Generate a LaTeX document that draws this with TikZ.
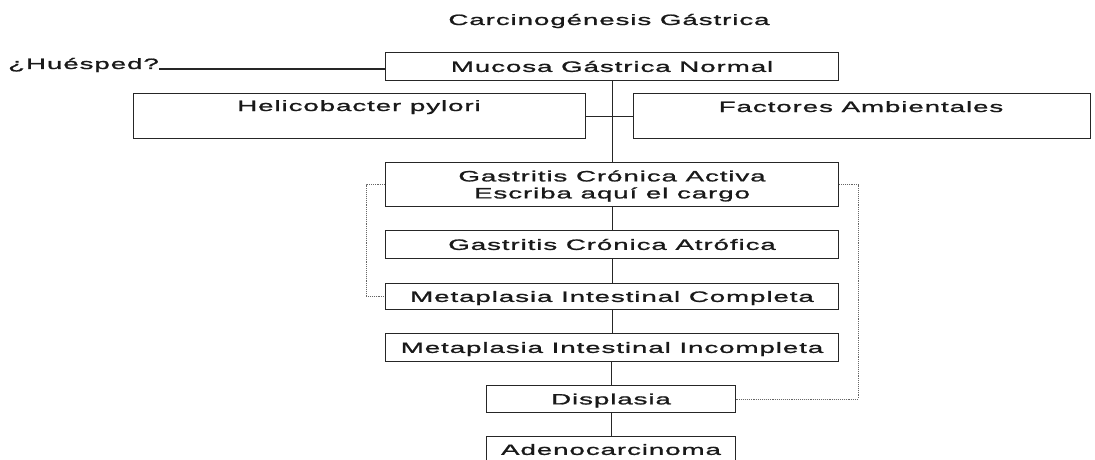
\documentclass[tikz,border=0pt]{standalone}
\usepackage{fontspec}
\setmainfont{Liberation Sans}[FakeStretch=1.85,LetterSpace=6,FakeBold=1.2]
\begin{document}
\begin{tikzpicture}[x=1pt,y=-1pt,
  txt/.style={font=\fontsize{15}{17}\selectfont, inner sep=0pt, text=black!90},
  box/.style={txt, draw=black!85, line width=1.1pt, anchor=north west, align=center,
    text height=10.7pt, text depth=0pt},
  conn/.style={draw=black!85, line width=1.1pt},
  dots/.style={draw=black!60, line width=0.9pt, densely dotted}]
\clip (0,0) rectangle (1095,460);
\fill[white] (0,0) rectangle (1095,460);
\node[txt, anchor=base] (title) at (609,25) {Carcinogénesis Gástrica};
\node[box, minimum width=453, minimum height=28] (mucosa) at (385,52) {Mucosa Gástrica Normal};
\node[txt, anchor=base west] (hues) at (8,69) {¿Huésped?};
\node[box, minimum width=452, minimum height=45] (heli) at (133,93) {};
\node[txt, anchor=base] (helit) at (359,111) {Helicobacter pylori};
\node[box, minimum width=457, minimum height=45] (fact) at (633,93) {};
\node[txt, anchor=base] (factt) at (861,112) {Factores Ambientales};
\node[box, minimum width=453, minimum height=44, text height=27.7pt] (activa) at (385,162) {Gastritis Crónica Activa\\Escriba aquí el cargo};
\node[box, minimum width=453, minimum height=28] (atrof) at (385,230) {Gastritis Crónica Atrófica};
\node[box, minimum width=453, minimum height=26] (compl) at (385,283) {Metaplasia Intestinal Completa};
\node[box, minimum width=453, minimum height=28] (incompl) at (385,333) {Metaplasia Intestinal Incompleta};
\node[box, minimum width=249, minimum height=27] (displ) at (486,385) {Displasia};
\node[box, minimum width=249, minimum height=26] (adeno) at (486,436) {Adenocarcinoma};
\draw[conn] (hues.base east) -- (mucosa.west |- hues.base);
\draw[conn] (activa.north |- mucosa.south) -- (activa.north);
\draw[conn] (heli.east) -- (fact.west);
\draw[conn] (activa.south) -- (atrof.north);
\draw[conn] (atrof.south) -- (compl.north);
\draw[conn] (compl.south) -- (incompl.north);
\draw[conn] (incompl.south -| displ.north) -- (displ.north);
\draw[conn] (displ.south) -- (adeno.north);
\draw[dots] (activa.west) -- ++(-19,0) |- (compl.west);
\draw[dots] (activa.east) -- ++(19,0) |- (displ.east);
\end{tikzpicture}
\end{document}
